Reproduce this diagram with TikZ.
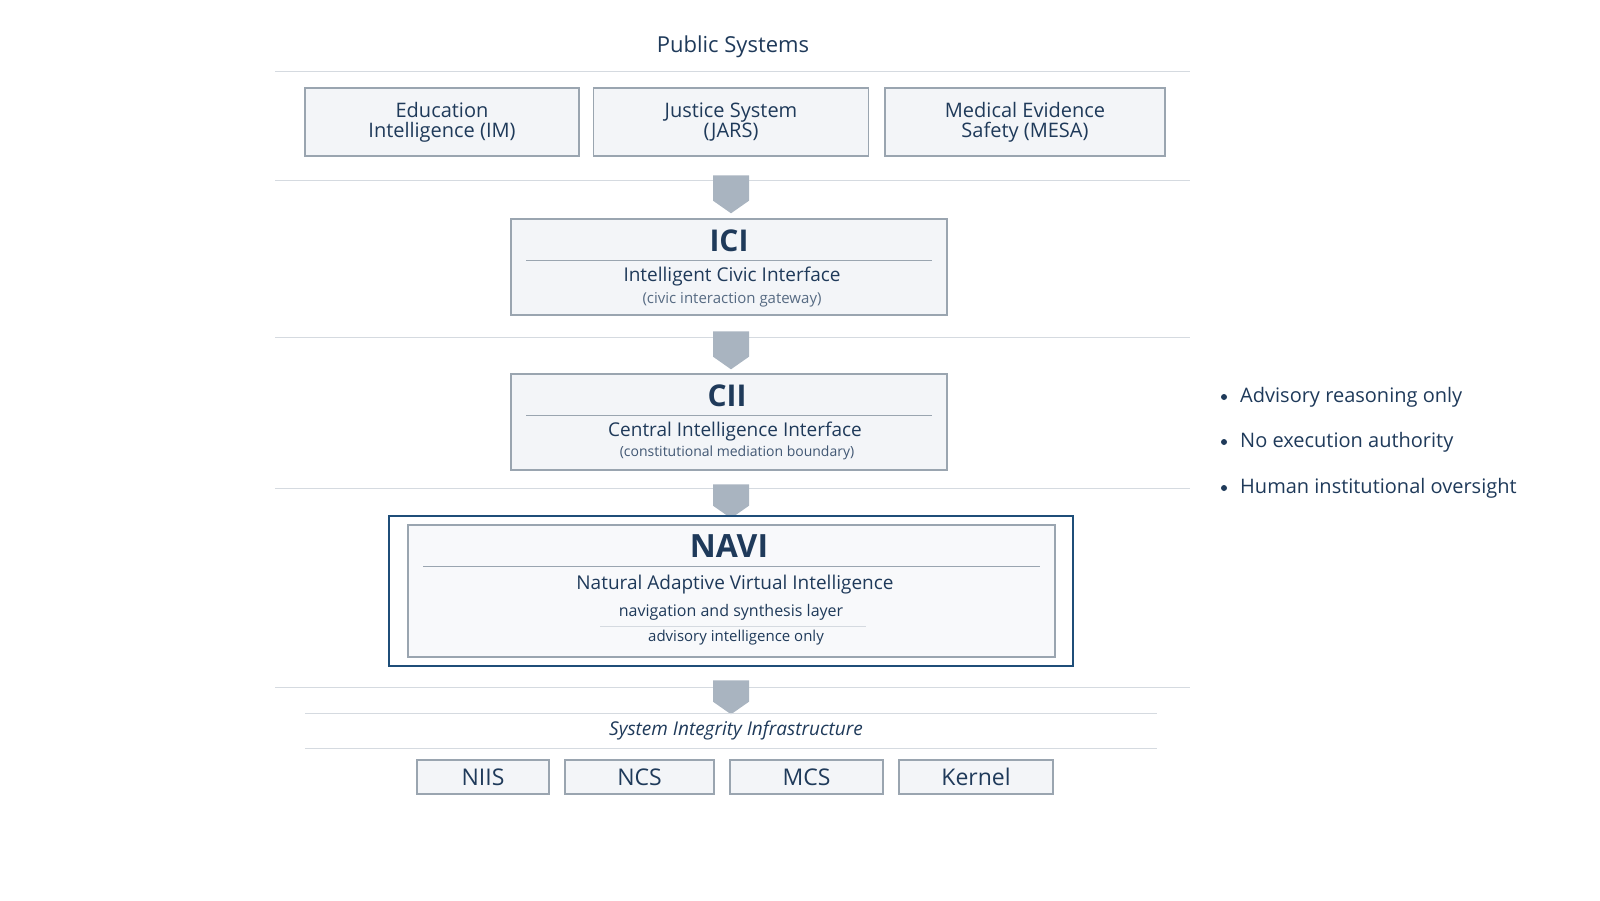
\documentclass[tikz,border=0pt]{standalone}
\usepackage{fontspec}
\setmainfont{Open Sans}
\usetikzlibrary{shapes.arrows}
\definecolor{navy}{HTML}{1F3A5A}
\definecolor{bord}{HTML}{9AA5B0}
\definecolor{boxf}{HTML}{F3F5F8}
\definecolor{rule}{HTML}{D5DAE0}
\definecolor{arr}{HTML}{A9B4C0}
\definecolor{navb}{HTML}{1F4E79}
\newcommand{\fs}[1]{\fontsize{#1}{#1}\selectfont}
\tikzset{
 box/.style={draw=bord,fill=boxf,line width=1.2pt,text=navy,align=center},
 sep/.style={draw=rule,line width=1pt},
 blk/.style={single arrow,draw=none,fill=arr,shape border rotate=270,minimum width=36pt,single arrow head extend=0pt,single arrow tip angle=110,inner sep=0pt,minimum height=38pt,single arrow head indent=0pt},
 txt/.style={text=navy,inner sep=0pt},
 sm/.style={box,minimum height=34pt,font=\fs{23}}
}
\begin{document}
\begin{tikzpicture}[x=1pt,y=-1pt]
\useasboundingbox (0,0) rectangle (1600,900);
\node[txt,font=\fs{22}] (title) at (733,47) {Public Systems};
\draw[sep] (275,71) -- (1190,71);
\node[box,minimum width=274pt,minimum height=68pt,font=\fs{20}] (im) at (442,122) {Education\\Intelligence (IM)};
\node[box,minimum width=275pt,minimum height=68pt,font=\fs{20}] (jars) at (731,122) {Justice System\\(JARS)};
\node[box,minimum width=280pt,minimum height=68pt,font=\fs{20}] (mesa) at (1025,122) {Medical Evidence\\Safety (MESA)};
\draw[sep] (275,180) -- (1190,180);
\node[blk,minimum height=38pt] (a1) at (731,188) {};
\node[box,minimum width=436pt,minimum height=96pt] (ici) at (729,267) {};
\node[txt,font=\bfseries\fs{30}] (icit) at (729,241) {ICI};
\draw[draw=bord,line width=0.8pt] (526,260) -- (932,260);
\node[txt,font=\fs{19}] (icis) at (732,277) {Intelligent Civic Interface};
\node[txt,font=\fs{15},text=navy!75] (icic) at (732,300) {(civic interaction gateway)};
\draw[sep] (275,337) -- (1190,337);
\node[blk] (a2) at (731,344) {};
\node[box,minimum width=436pt,minimum height=96pt] (cii) at (729,422) {};
\node[txt,font=\bfseries\fs{30}] (ciit) at (727,396) {CII};
\draw[draw=bord,line width=0.8pt] (526,415) -- (932,415);
\node[txt,font=\fs{19}] (ciis) at (735,432) {Central Intelligence Interface};
\node[txt,font=\fs{14},text=navy!85] (ciic) at (737,453) {(constitutional mediation boundary)};
\draw[sep] (275,488) -- (1190,488);
\node[blk,minimum height=34pt] (a3) at (731,495) {};
\node[draw=navb,line width=2pt,fill=white,minimum width=684pt,minimum height=150pt] (navo) at (731,591) {};
\node[draw=bord,fill=boxf!60,line width=1.2pt,minimum width=647pt,minimum height=132pt] (navi) at (731.5,591) {};
\node[txt,font=\bfseries\fs{32}] (navt) at (729,546) {NAVI};
\draw[draw=bord,line width=0.8pt] (423,566) -- (1040,566);
\node[txt,font=\fs{19}] (navs) at (735,585) {Natural Adaptive Virtual Intelligence};
\node[txt,font=\fs{16}] (navn) at (731,612) {navigation and synthesis layer};
\draw[draw=rule,line width=0.8pt] (600,626) -- (866,626);
\node[txt,font=\fs{15}] (nava) at (736,638) {advisory intelligence only};
\draw[sep] (275,687) -- (1190,687);
\node[blk,minimum height=34pt] (a4) at (731,691) {};
\draw[sep] (305,713) -- (1157,713);
\node[txt,font=\itshape\fs{19}] (sii) at (736,731) {System Integrity Infrastructure};
\draw[sep] (305,748) -- (1157,748);
\node[sm,minimum width=132pt] (niis) at (483,777) {NIIS};
\node[sm,minimum width=149pt] (ncs) at (639.5,777) {NCS};
\node[sm,minimum width=153pt] (mcs) at (806.5,777) {MCS};
\node[sm,minimum width=154pt] (ker) at (976,777) {Kernel};
\foreach \y/\t/\n in {397/Advisory reasoning only/b1,442/No execution authority/b2,488/Human institutional oversight/b3}{
 \fill[navy] (1224,\y) circle (3pt);
 \node[txt,anchor=west,font=\fs{20}] (\n) at (1240,\y) {\t};
}
\end{tikzpicture}
\end{document}
